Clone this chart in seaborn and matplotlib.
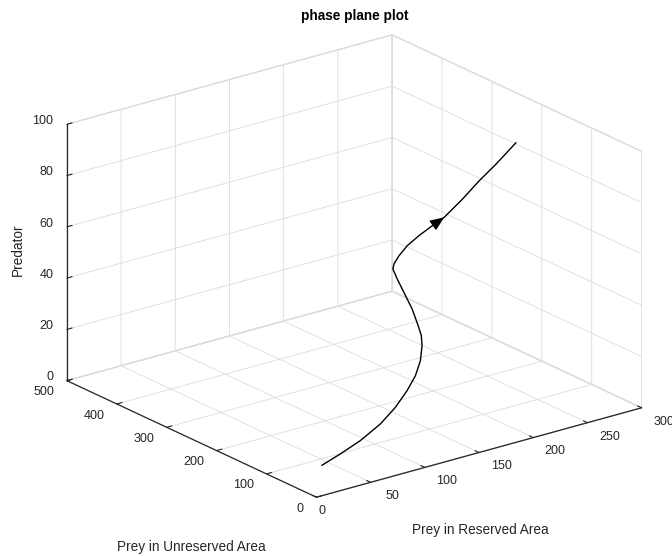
import matplotlib
matplotlib.use("Agg")
import numpy as np
import seaborn as sns
import matplotlib.pyplot as plt
from matplotlib.patches import FancyArrowPatch
from mpl_toolkits.mplot3d import proj3d

# trajectory
prey_reserved = [9.5, 30.2, 52.4, 74.6, 92.1, 106.6, 118.0, 126.3, 131.5,
                 134.5, 135.3, 133.4, 129.5, 127.0, 126.7, 131.4, 139.7,
                 151.1, 165.6, 181.6, 196.1, 216.7, 235.8, 254.9, 277.1]
prey_unreserved = [10, 18, 26, 34, 42, 50, 58, 66, 74,
                   82, 90, 98, 106, 114, 122, 130, 138,
                   146, 154, 162, 170, 178, 186, 194, 202]
predator = [10.4, 11.7, 13.6, 16.8, 20.5, 24.6, 28.4, 32.6, 37.1,
            40.0, 43.0, 49.0, 55.2, 60.0, 63.2, 63.9, 65.4,
            67.3, 68.8, 70.1, 70.9, 74.9, 79.1, 82.6, 87.7]

x_ticks = [0, 50, 100, 150, 200, 250, 300]
y_ticks = [0, 100, 200, 300, 400, 500]
z_ticks = [0, 20, 40, 60, 80, 100]
arrow_at = 20  # index of the point where the arrow head sits


class Arrow3D(FancyArrowPatch):
    def __init__(self, xs, ys, zs, *args, **kwargs):
        super().__init__((0, 0), (0, 0), *args, **kwargs)
        self._verts3d = xs, ys, zs

    def do_3d_projection(self, renderer=None):
        xs3d, ys3d, zs3d = self._verts3d
        xs, ys, zs = proj3d.proj_transform(xs3d, ys3d, zs3d, self.axes.M)
        self.set_positions((xs[0], ys[0]), (xs[1], ys[1]))
        return np.min(zs)


sns.set_theme(style="white")
plt.rcParams["font.family"] = ["Liberation Sans", "DejaVu Sans"]
text_color = "#262626"

fig = plt.figure(figsize=(6.72, 5.56), dpi=100)
ax = fig.add_axes([0.016, 0.008, 1, 1], projection="3d")
ax.set_proj_type("ortho")
ax.view_init(elev=21, azim=-127.5)
ax.set_box_aspect((1, 1, 0.67), zoom=1.12)

ax.plot(prey_reserved, prey_unreserved, predator, color="black", lw=1.0)
arrow = Arrow3D(prey_reserved[arrow_at - 1:arrow_at + 1],
                prey_unreserved[arrow_at - 1:arrow_at + 1],
                predator[arrow_at - 1:arrow_at + 1],
                arrowstyle="-|>,head_length=0.6,head_width=0.25",
                mutation_scale=14, shrinkA=0, shrinkB=0,
                color="black", lw=1.0)
ax.add_artist(arrow)

ax.set_xlim(0, 300)
ax.set_ylim(0, 500)
ax.set_zlim(0, 100)
ax.set_xticks(x_ticks)
ax.set_yticks(y_ticks)
ax.set_zticks(z_ticks)

for axis in (ax.xaxis, ax.yaxis, ax.zaxis):
    axis.set_pane_color((1, 1, 1, 1))
    axis.pane.set_edgecolor("#dcdcdc")
    axis._axinfo["grid"].update(color="#dcdcdc", linewidth=0.6)
    axis._axinfo["tick"]["inward_factor"] = 0.0
    axis._axinfo["tick"]["outward_factor"] = 0.2
    axis._axinfo["tick"]["linewidth"] = {True: 0.8, False: 0.5}
    axis.line.set_color(text_color)
    axis.line.set_linewidth(0.9)
ax.tick_params(labelsize=9, colors=text_color, pad=2)

# predator labels are right aligned against the axis
for lab in ax.zaxis.get_ticklabels():
    lab.set_horizontalalignment("right")


# nudge tick labels (pixels, +dy = up) to where MATLAB puts them;
# mplot3d resets label transforms on every draw, so shift the position
def nudge(axis, dx, dy, first_dx=None):
    for i, tick in enumerate(axis.get_major_ticks()):
        sx = first_dx if (i == 0 and first_dx is not None) else dx
        lab = tick.label1

        def moved(xy, orig=lab.set_position, sx=sx, sy=dy):
            px, py = ax.transData.transform(xy)
            orig(ax.transData.inverted().transform((px + sx, py + sy)))

        lab.set_position = moved


nudge(ax.xaxis, 10, 10, first_dx=-6)
nudge(ax.yaxis, -7, 11, first_dx=-1)
nudge(ax.zaxis, 14, 8)

fig.text(0.528, 0.972, "phase plane plot", ha="center", va="center",
         fontsize=9.8, fontweight="bold", color="black")
fig.text(0.715, 0.047, "Prey in Reserved Area", ha="center", va="center",
         fontsize=9.8, color=text_color)
fig.text(0.285, 0.016, "Prey in Unreserved Area", ha="center", va="center",
         fontsize=9.8, color=text_color)
fig.text(0.027, 0.55, "Predator", ha="center", va="center", rotation=90,
         fontsize=9.8, color=text_color)

fig.savefig("out.png", dpi=100)
